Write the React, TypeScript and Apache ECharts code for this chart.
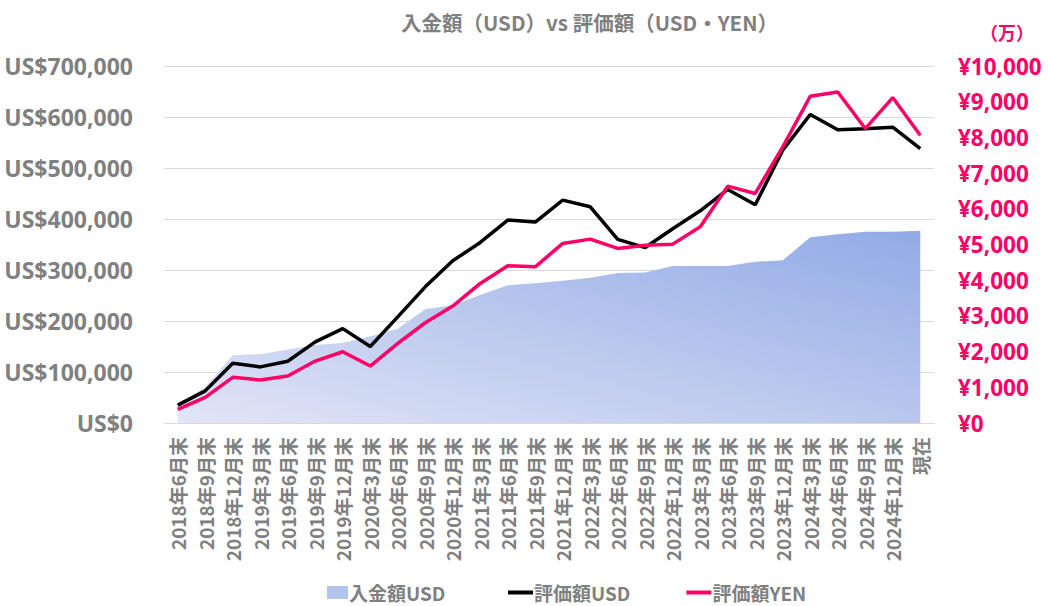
import React, { useEffect, useRef } from "react";
import * as echarts from "echarts";

const categories = [
  "2018年6月末", "2018年9月末", "2018年12月末",
  "2019年3月末", "2019年6月末", "2019年9月末", "2019年12月末",
  "2020年3月末", "2020年6月末", "2020年9月末", "2020年12月末",
  "2021年3月末", "2021年6月末", "2021年9月末", "2021年12月末",
  "2022年3月末", "2022年6月末", "2022年9月末", "2022年12月末",
  "2023年3月末", "2023年6月末", "2023年9月末", "2023年12月末",
  "2024年3月末", "2024年6月末", "2024年9月末", "2024年12月末",
  "現在",
];

const depositUSD = [
  34000, 71000, 133000, 135000, 144000, 153000, 157000,
  170000, 185000, 223000, 231000, 251000, 270000, 274000,
  279000, 285000, 294000, 295000, 308000, 308000, 308000,
  316000, 319000, 364000, 370000, 375000, 375000, 377000,
];

const valueUSD = [
  35000, 63000, 117000, 110000, 121000, 159000, 185000,
  150000, 208000, 267000, 318000, 354000, 398000, 394000,
  437000, 424000, 360000, 344000, 381000, 416000, 458000,
  428000, 535000, 605000, 575000, 577000, 580000, 538000,
];

const valueYEN = [
  383, 719, 1279, 1204, 1316, 1735, 1996,
  1595, 2231, 2808, 3275, 3910, 4403, 4375,
  5030, 5150, 4890, 4982, 5010, 5495, 6634,
  6429, 7734, 9153, 9273, 8248, 9116, 8061,
];

const usdTicks = { min: 0, max: 700000, interval: 100000 };
const yenTicks = { min: 0, max: 10000, interval: 1000 };

const GRAY = "#808080";
const PINK = "#ff0066";
const FONT = "'Noto Sans CJK JP', 'Noto Sans', sans-serif";
const NUMFONT = "'Noto Sans', sans-serif";

const fmt = (v: number) => v.toLocaleString("en-US");

export default function App() {
  const ref = useRef<HTMLDivElement>(null);

  useEffect(() => {
    if (!ref.current) return;
    const chart = echarts.init(ref.current, undefined, { renderer: "svg" });
    const areaGradient = new echarts.graphic.LinearGradient(0, 1, 1, 0, [
      { offset: 0, color: "#e1e5f6" },
      { offset: 1, color: "#92aae6" },
    ]);
    const legendText = {
      color: GRAY,
      fontSize: 19,
      fontWeight: "bold",
      fontFamily: FONT,
      padding: [0, 0, 0, -4],
    };
    chart.setOption({
      animation: false,
      textStyle: { fontFamily: FONT },
      title: {
        text: "入金額（USD）vs 評価額（USD・YEN）",
        left: 396,
        top: 7,
        textStyle: { color: GRAY, fontSize: 20.5, fontWeight: "bold", fontFamily: FONT },
      },
      graphic: [
        {
          type: "text",
          left: 980,
          top: 23,
          style: {
            text: "（万）",
            fill: PINK,
            font: `bold 18px ${FONT}`,
          },
        },
      ],
      legend: [
        {
          left: 322,
          top: 578,
          itemWidth: 21,
          itemHeight: 13,
          textStyle: legendText,
          data: [{ name: "入金額USD", icon: "rect", itemStyle: { color: "#b3c2ee" } }],
        },
        {
          left: 503,
          top: 578,
          itemGap: 56,
          itemWidth: 25,
          itemHeight: 4,
          textStyle: legendText,
          data: [
            { name: "評価額USD", icon: "rect", itemStyle: { color: "#000000", borderWidth: 0 } },
            { name: "評価額YEN", icon: "rect", itemStyle: { color: PINK, borderWidth: 0 } },
          ],
        },
      ],
      grid: { left: 164, right: 114, top: 66, bottom: 183 },
      xAxis: {
        type: "category",
        data: categories,
        boundaryGap: true,
        axisLine: { lineStyle: { color: "#d9d9d9", width: 1 } },
        axisTick: { show: false },
        axisLabel: {
          interval: 0,
          rotate: 90,
          margin: 14,
          color: GRAY,
          fontSize: 19,
          fontWeight: "bold",
          fontFamily: FONT,
        },
      },
      yAxis: [
        {
          type: "value",
          ...usdTicks,
          axisLine: { show: false },
          axisTick: { show: false },
          splitLine: { lineStyle: { color: "#d9d9d9", width: 1 } },
          axisLabel: {
            margin: 31,
            color: GRAY,
            fontSize: 23,
            fontWeight: "bold",
            fontFamily: NUMFONT,
            formatter: (v: number) => "US$" + fmt(v),
          },
        },
        {
          type: "value",
          position: "right",
          ...yenTicks,
          axisLine: { show: false },
          axisTick: { show: false },
          splitLine: { show: false },
          axisLabel: {
            margin: 24,
            color: PINK,
            fontSize: 22.5,
            fontWeight: "bold",
            fontFamily: NUMFONT,
            formatter: (v: number) => "¥" + fmt(v),
          },
        },
      ],
      series: [
        {
          name: "入金額USD",
          type: "line",
          data: depositUSD,
          yAxisIndex: 0,
          symbol: "none",
          lineStyle: { width: 0 },
          itemStyle: { color: "#b3c2ee" },
          areaStyle: { color: areaGradient, opacity: 1 },
          z: 1,
        },
        {
          name: "評価額USD",
          type: "line",
          data: valueUSD,
          yAxisIndex: 0,
          symbol: "none",
          lineStyle: { width: 3.5, color: "#000000" },
          itemStyle: { color: "#000000" },
          z: 3,
        },
        {
          name: "評価額YEN",
          type: "line",
          data: valueYEN,
          yAxisIndex: 1,
          symbol: "none",
          lineStyle: { width: 3.5, color: PINK },
          itemStyle: { color: PINK },
          z: 4,
        },
      ],
    });
    return () => chart.dispose();
  }, []);

  return (
    <div
      ref={ref}
      style={{ position: "fixed", left: 0, top: 0, width: "1048px", height: "606px", background: "#ffffff" }}
    />
  );
}
